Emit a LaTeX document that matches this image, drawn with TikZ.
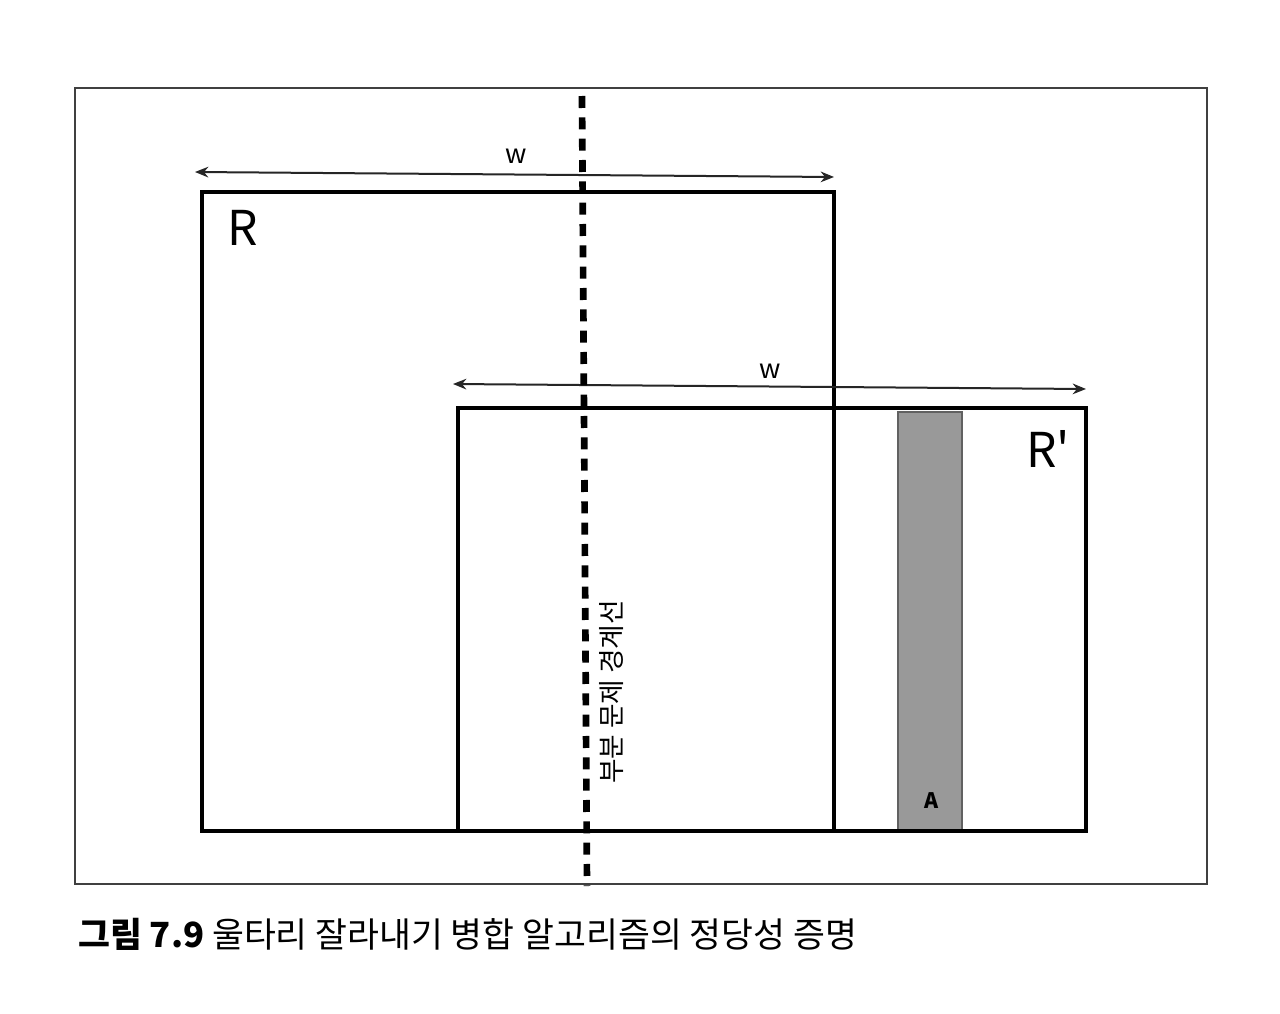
\documentclass[tikz,border=0pt]{standalone}
\usepackage{fontspec}
\setmainfont{Noto Sans CJK KR}
\newfontfamily\plainfont[Ligatures=ResetAll]{Noto Sans CJK KR}
\usetikzlibrary{arrows.meta}
\tikzset{
  frame/.style={draw=black!75, line width=0.9pt},
  rectbox/.style={draw=black, line width=2.8pt},
  dimarrow/.style={draw=black!85, line width=1.5pt, {Stealth[length=10pt,width=8pt]}-{Stealth[length=10pt,width=8pt]}},
  boundary/.style={draw=black, line width=5pt, dash pattern=on 9pt off 7pt},
  lbl/.style={font=\fontsize{20}{22}\selectfont, inner sep=0pt},
  biglbl/.style={font=\plainfont\fontsize{36}{40}\selectfont, inner sep=0pt},
  shade/.style={fill=black!40, draw=black!62, line width=1.4pt}
}
\begin{document}
\begin{tikzpicture}[x=0.75pt,y=-0.75pt]
\useasboundingbox (0,0) rectangle (1280,1013);
\fill[white] (0,0) rectangle (1280,1013);
% outer frame
\draw[frame] (75,88) rectangle (1207,884);
% gray column A
\path[shade] (898,412) rectangle (962,831);
% rectangles R and R'
\draw[rectbox] (202,192) rectangle (834,831);
\draw[rectbox] (458,408) rectangle (1086,831);
% dimension arrows
\coordinate (a1l) at (195,172);
\coordinate (a1r) at (834,177);
\coordinate (a2l) at (453,384);
\coordinate (a2r) at (1086,389);
\draw[dimarrow] (a1l) -- (a1r);
\draw[dimarrow] (a2l) -- (a2r);
\node[lbl] (w1) at (516,156) {w};
\node[lbl] (w2) at (770,371) {w};
% labels
\node[biglbl] (R) at (243,228) {R};
\node[biglbl] (Rp) at (1048,449) {R'};
\node[font=\fontsize{16}{18}\selectfont\bfseries, inner sep=0pt] (A) at (932,801) {A};
% boundary line
\coordinate (bt) at (582,96);
\coordinate (bb) at (587,886);
\draw[boundary] (bt) -- (bb);
\node[lbl, rotate=90, font=\fontsize{20}{22}\selectfont] (bl) at (612,692) {부분 문제 경계선};
% caption
\node[anchor=west, inner sep=0pt, font=\fontsize{26}{30}\selectfont] (cap) at (78,934) {\textbf{그림 7.9} 울타리 잘라내기 병합 알고리즘의 정당성 증명};
\end{tikzpicture}
\end{document}
